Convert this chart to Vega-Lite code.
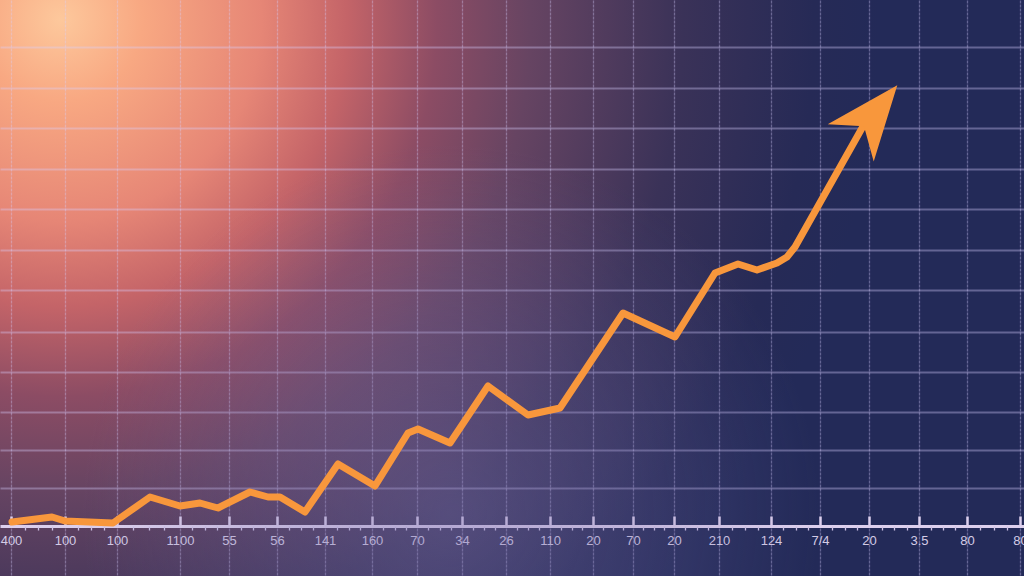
{
  "$schema": "https://vega.github.io/schema/vega-lite/v6.json",
  "width": 1024,
  "height": 576,
  "autosize": {"type": "none"},
  "padding": 0,
  "background": "#232a58",
  "view": {
    "stroke": null,
    "fill": {
      "gradient": "radial",
      "x1": 0.059, "y1": 0.238, "r1": 0,
      "x2": 0.059, "y2": 0.238, "r2": 0.8,
      "stops": [
        {"offset": 0, "color": "#fdc89c"},
        {"offset": 0.1, "color": "#f8a882"},
        {"offset": 0.245, "color": "#e68676"},
        {"offset": 0.35, "color": "#c46468"},
        {"offset": 0.46, "color": "#8c4c64"},
        {"offset": 0.575, "color": "#664462"},
        {"offset": 0.76, "color": "#3a3258"},
        {"offset": 0.92, "color": "#262a56"},
        {"offset": 1, "color": "#232a58"}
      ]
    }
  },
  "layer": [
    {
      "data": {"values": [{}]},
      "mark": {
        "type": "rect",
        "fill": {
          "gradient": "radial",
          "x1": 0.44, "y1": 0.72, "r1": 0,
          "x2": 0.44, "y2": 0.72, "r2": 0.36,
          "stops": [
            {"offset": 0, "color": "rgba(125,115,175,0.42)"},
            {"offset": 0.5, "color": "rgba(115,105,165,0.25)"},
            {"offset": 1, "color": "rgba(110,100,160,0)"}
          ]
        }
      },
      "encoding": {
        "x": {"datum": 0, "type": "quantitative", "scale": {"domain": [0, 1024], "nice": false, "zero": false}, "axis": null},
        "x2": {"datum": 1024},
        "y": {"datum": -50, "type": "quantitative", "scale": {"domain": [-50, 526], "nice": false, "zero": false}, "axis": null},
        "y2": {"datum": 526}
      }
    },
    {
      "data": {
        "values": [
          {"x": 12, "value": 4},
          {"x": 52, "value": 9},
          {"x": 65, "value": 5},
          {"x": 113, "value": 3},
          {"x": 150, "value": 29},
          {"x": 180, "value": 20},
          {"x": 200, "value": 23},
          {"x": 218, "value": 18},
          {"x": 250, "value": 34},
          {"x": 268, "value": 29},
          {"x": 280, "value": 29},
          {"x": 305, "value": 14},
          {"x": 338, "value": 62},
          {"x": 375, "value": 40},
          {"x": 408, "value": 93},
          {"x": 418, "value": 97},
          {"x": 450, "value": 83},
          {"x": 488, "value": 140},
          {"x": 528, "value": 111},
          {"x": 560, "value": 118},
          {"x": 623, "value": 213},
          {"x": 675, "value": 189},
          {"x": 715, "value": 253},
          {"x": 738, "value": 262},
          {"x": 757, "value": 256},
          {"x": 777, "value": 263},
          {"x": 787, "value": 269},
          {"x": 795, "value": 279},
          {"x": 866, "value": 405}
        ]
      },
      "mark": {"type": "line", "color": "#f8973c", "strokeWidth": 7, "strokeCap": "round", "strokeJoin": "round"},
      "encoding": {
        "x": {
          "field": "x", "type": "quantitative",
          "scale": {"domain": [0, 1024], "nice": false, "zero": false},
          "axis": {
            "orient": "bottom",
            "offset": -50,
            "title": null,
            "values": [11, 65, 117, 180, 229, 277, 325, 372, 417, 462, 506, 550, 593, 633, 674, 719, 771, 820, 869, 919, 967, 1020],
            "labelExpr": "({'11':'400','65':'100','117':'100','180':'1100','229':'55','277':'56','325':'141','372':'160','417':'70','462':'34','506':'26','550':'110','593':'20','633':'70','674':'20','719':'210','771':'124','820':'7/4','869':'20','919':'3.5','967':'80','1020':'80'})[datum.value]",
            "labelFlush": false,
            "labelOverlap": false,
            "labelBound": false,
            "labelFont": "Liberation Sans",
            "labelFontSize": 13,
            "labelColor": "#d4cce6",
            "labelPadding": 18,
            "domain": true,
            "domainColor": "#ddd0ee",
            "domainWidth": 3,
            "ticks": true,
            "tickSize": -10,
            "tickWidth": 2.5,
            "tickColor": "#ddd0ee",
            "grid": true,
            "gridColor": "#d8d0ff",
            "gridOpacity": 0.36,
            "gridWidth": 1.3,
            "gridDash": [3, 1]
          }
        },
        "y": {
          "field": "value", "type": "quantitative",
          "scale": {"domain": [-50, 526], "nice": false, "zero": false},
          "axis": {
            "title": null,
            "values": [38, 76, 114, 154, 194, 236, 276, 317, 357, 398, 438, 479],
            "labels": false,
            "ticks": false,
            "domain": false,
            "grid": true,
            "gridColor": "#d8d0ff",
            "gridOpacity": 0.36,
            "gridWidth": 1.8
          }
        }
      }
    },
    {
      "data": {"values": [{"x": 874, "value": 412}]},
      "mark": {
        "type": "point",
        "shape": "M0,-1L0.8,1L0,0.43L-0.8,1Z",
        "size": 5476,
        "angle": 39,
        "filled": true,
        "color": "#f8973c",
        "opacity": 1
      },
      "encoding": {
        "x": {
          "field": "x", "type": "quantitative",
          "scale": {"domain": [0, 1024], "nice": false, "zero": false},
          "axis": {
            "orient": "bottom",
            "offset": -50,
            "title": null,
            "values": [24.5, 38, 51.5, 78, 91, 104, 133, 148.5, 164, 192, 204.5, 217, 241, 253, 265, 289, 301, 313, 337, 348.5, 360, 383, 394.5, 406, 428, 439.5, 451, 473, 484, 495, 517, 528, 539, 561, 571.5, 582, 603, 613, 623, 643, 653.5, 664, 685, 696.5, 708, 732, 745, 758, 783, 795.5, 808, 832, 844.5, 857, 881.5, 894, 906.5, 931, 943, 955, 980, 993.5, 1007],
            "labels": false,
            "domain": false,
            "grid": false,
            "ticks": true,
            "tickSize": 4,
            "tickWidth": 1.3,
            "tickColor": "#cfc3e6"
          }
        },
        "y": {
          "field": "value", "type": "quantitative",
          "scale": {"domain": [-50, 526], "nice": false, "zero": false},
          "axis": null
        }
      }
    }
  ],
  "resolve": {"axis": {"x": "independent", "y": "independent"}}
}
